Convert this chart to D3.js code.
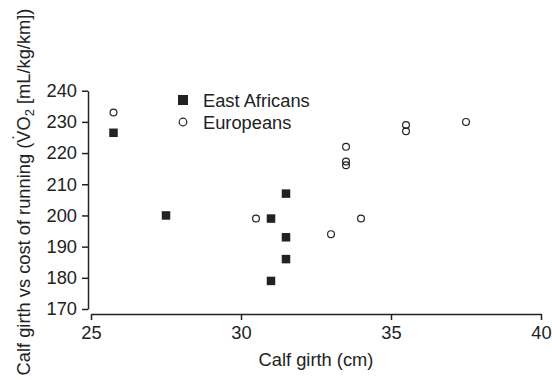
<!DOCTYPE html>
<html><head><meta charset="utf-8">
<script src="https://cdn.jsdelivr.net/npm/d3@7"></script>
<style>body{margin:0;background:#fff;} text{font-family:"Liberation Sans",Arial,sans-serif;}</style>
</head><body>
<svg id="c" width="552" height="380"></svg>
<script>
const xTicks = [25, 30, 35, 40];
const yTicks = [170, 180, 190, 200, 210, 220, 230, 240];
const africansGirth = [25.75, 27.5, 31, 31.5, 31.5, 31.5, 31];
const africansCost  = [226.5, 200, 199, 207, 193, 186, 179];
const europeansGirth = [25.75, 30.5, 33, 33.5, 33.5, 33.5, 34, 35.5, 35.5, 37.5];
const europeansCost  = [233, 199, 194, 222, 217.3, 216.1, 199, 229, 227, 230];
const seriesNames = ["East Africans", "Europeans"];

const svg = d3.select("#c");
const ink = "#222";
const fs = 18.3;
const x = d3.scaleLinear().domain([25, 40]).range([91, 541]);
const y = d3.scaleLinear().domain([170, 240]).range([309, 90.7]);

const gx = svg.append("g").attr("transform", "translate(0,314)")
  .call(d3.axisBottom(x).tickValues(xTicks).tickSize(6).tickSizeOuter(0).tickPadding(6));
const gy = svg.append("g").attr("transform", "translate(88,0)")
  .call(d3.axisLeft(y).tickValues(yTicks).tickSize(6).tickSizeOuter(0).tickPadding(5));
[gx, gy].forEach(g => {
  g.selectAll("path,line").attr("stroke", ink).attr("stroke-width", 1.5);
  g.selectAll("text").attr("fill", ink).style("font-size", fs + "px").style("font-family", '"Liberation Sans",Arial,sans-serif');
});

const sq = 8.5;
svg.append("g").selectAll("rect").data(africansGirth.map((g, i) => [g, africansCost[i]]))
  .join("rect")
  .attr("x", d => x(d[0]) - sq / 2).attr("y", d => y(d[1]) - sq / 2)
  .attr("width", sq).attr("height", sq).attr("fill", ink);

svg.append("g").selectAll("circle").data(europeansGirth.map((g, i) => [g, europeansCost[i]]))
  .join("circle")
  .attr("cx", d => x(d[0])).attr("cy", d => y(d[1])).attr("r", 3.4)
  .attr("fill", "none").attr("stroke", ink).attr("stroke-width", 1.2);

// legend
const lg = svg.append("g");
lg.append("rect").attr("x", 178).attr("y", 95).attr("width", 10).attr("height", 10).attr("fill", ink);
lg.append("circle").attr("cx", 183).attr("cy", 122).attr("r", 3.8).attr("fill", "none").attr("stroke", ink).attr("stroke-width", 1.2);
lg.append("text").attr("x", 203).attr("y", 106.5).attr("fill", ink).style("font-size", fs + "px").text(seriesNames[0]);
lg.append("text").attr("x", 203).attr("y", 128.5).attr("fill", ink).style("font-size", fs + "px").text(seriesNames[1]);

// axis titles
svg.append("text").attr("x", 316).attr("y", 366).attr("text-anchor", "middle").attr("fill", ink)
  .style("font-size", fs + "px").text("Calf girth (cm)");

const yg = svg.append("g").attr("transform", "translate(30,192) rotate(-90)");
const yt = yg.append("text")
  .attr("text-anchor", "middle").attr("fill", ink).style("font-size", fs + "px");
yt.append("tspan").text("Calf girth vs cost of running (VO");
yt.append("tspan").attr("dy", 4).style("font-size", "13px").text("2");
yt.append("tspan").attr("dy", -4).text(" [mL/kg/km])");
// dot above the V
const node = yt.node();
const full = node.textContent;
const vi = full.indexOf("(VO") + 1;
const p0 = node.getStartPositionOfChar(vi);
const p1 = node.getEndPositionOfChar(vi);
yg.append("text").attr("x", (p0.x + p1.x) / 2).attr("y", p0.y - 4)
  .attr("text-anchor", "middle").attr("fill", ink).style("font-size", fs + "px").text("\u02D9");
</script>
</body></html>
